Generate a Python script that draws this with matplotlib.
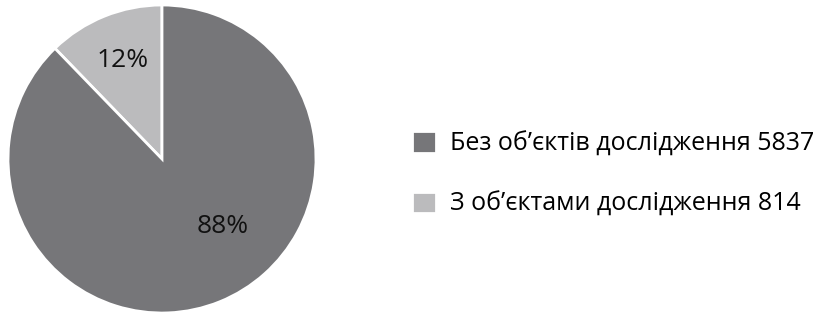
import matplotlib
matplotlib.use('Agg')
import matplotlib.pyplot as plt
import numpy as np

plt.rcParams['font.family'] = ['Open Sans', 'DejaVu Sans']

# дані
labels = ['З об’єктами дослідження 814', 'Без об’єктів дослідження 5837']
values = [814, 5837]
pct_text = ['12%', '88%']
colors = ['#bbbbbd', '#767679']

fig = plt.figure(figsize=(8.31, 3.14), dpi=100)
W, H = 831, 314
cx, cy, r = 162, 159, 154
ax = fig.add_axes([(cx - r) / W, (H - cy - r) / H, 2 * r / W, 2 * r / H])

wedges, _ = ax.pie(values, colors=colors, startangle=90, counterclock=True,
                   radius=1, wedgeprops=dict(edgecolor='white', linewidth=2))
ax.set_xlim(-1, 1)
ax.set_ylim(-1, 1)
ax.set_aspect('equal')
ax.axis('off')

# підписи відсотків (кут, відстань від центру)
lab_pos = [(112, 0.69), (312, 0.59)]
for txt, (ang, d) in zip(pct_text, lab_pos):
    a = np.deg2rad(ang)
    ax.text(d * np.cos(a), d * np.sin(a), txt, ha='center', va='center',
            fontsize=19, color='#111111')

# легенда: спочатку темний, потім світлий
handles = [wedges[1], wedges[0]]
leg_labels = [labels[1], labels[0]]
fig.legend(handles, leg_labels, loc='center left',
           bbox_to_anchor=(389 / W, 1 - 174 / H), frameon=False,
           fontsize=18, handlelength=0.96, handleheight=0.96,
           handletextpad=0.6, labelspacing=1.4)

fig.savefig('out.png', dpi=100)
